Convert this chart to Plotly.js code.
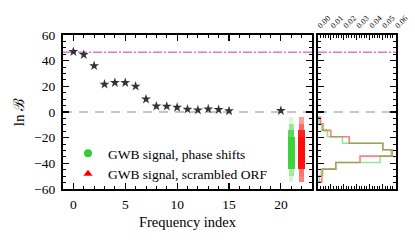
<!DOCTYPE html>
<html><head><meta charset="utf-8">
<script src="https://cdn.plot.ly/plotly-3.0.1.min.js"></script>
<style>html,body{margin:0;padding:0;background:#fff}</style>
</head><body><div id="chart" style="width:415px;height:242px"></div>
<script>
// ---- data ----
const freqIndex = [0, 1, 2, 3, 4, 5, 6, 7, 8, 9, 10, 11, 12, 13, 14, 15, 20];
const lnB = [47, 44.7, 36, 21.6, 22.8, 22.8, 20, 10, 4.5, 4.4, 3.6, 2.1, 1.5, 2.3, 1.8, 0.8, 1];
const refLnB = 46.5;
const zeroLine = 0;
const blobX = [21, 22];
const seriesNames = ['GWB signal, phase shifts', 'GWB signal, scrambled ORF'];
// histogram bins (bottom to top)
const binEdges = [-54.5, -49.5, -44.5, -39.4, -34.4, -29.4, -24.3, -19.3, -14.3, -9.2, -4.2];
const phaseHist = [0.0010, 0.0025, 0.0138, 0.0482, 0.0568, 0.0503, 0.0190, 0.0073, 0.0029, 0.0008];
const orfHist   = [0.0030, 0.0035, 0.0138, 0.0326, 0.0576, 0.0503, 0.0242, 0.0099, 0.0039, 0.0021];
const histTicks = [0, 0.01, 0.02, 0.03, 0.04, 0.05, 0.06];

// ---- styling ----
const GREEN = 'rgb(50,205,50)';
const RED = 'rgb(255,0,0)';
const FONT = '"Liberation Serif", "Times New Roman", serif';

function stepXY(edges, vals) {
  const xs = [0], ys = [edges[0]];
  for (let i = 0; i < vals.length; i++) { xs.push(vals[i]); ys.push(edges[i]); }
  xs.push(vals[vals.length - 1]); ys.push(edges[vals.length]);
  xs.push(0); ys.push(edges[vals.length]);
  return {xs, ys};
}
function blob(xpos, edges, vals, color) {
  const base = [], h = [], xs = [], op = [], w = [];
  for (let i = 0; i < vals.length; i++) {
    const o = 1 - Math.exp(-vals[i] / 0.004);
    base.push(edges[i]); h.push(edges[i + 1] - edges[i]); xs.push(xpos);
    op.push(o * 0.95); w.push(0.3 + 0.35 * o);
  }
  return {type: 'bar', x: xs, y: h, base: base, width: w, xaxis: 'x', yaxis: 'y',
    marker: {color: color, opacity: op, line: {width: 0}}, showlegend: false, hoverinfo: 'skip'};
}

const gStep = stepXY(binEdges, phaseHist);
const rStep = stepXY(binEdges, orfHist);

const traces = [
  blob(blobX[0], binEdges, phaseHist, GREEN),
  blob(blobX[1], binEdges, orfHist, RED),
  {type: 'scatter', mode: 'markers', x: freqIndex, y: lnB, xaxis: 'x', yaxis: 'y',
    marker: {symbol: 'star', size: 7.5, color: '#333333', line: {width: 0}}, showlegend: false},
  {type: 'scatter', mode: 'markers', x: [null], y: [null], xaxis: 'x', yaxis: 'y', name: seriesNames[0],
    marker: {symbol: 'circle', size: 8, color: GREEN}},
  {type: 'scatter', mode: 'markers', x: [null], y: [null], xaxis: 'x', yaxis: 'y', name: seriesNames[1],
    marker: {symbol: 'triangle-up', size: 8, color: RED}},
  {type: 'scatter', mode: 'lines', x: rStep.xs, y: rStep.ys, xaxis: 'x2', yaxis: 'y2',
    line: {shape: 'vh', color: 'rgba(255,0,0,0.5)', width: 1.6}, showlegend: false},
  {type: 'scatter', mode: 'lines', x: gStep.xs, y: gStep.ys, xaxis: 'x2', yaxis: 'y2',
    line: {shape: 'vh', color: 'rgba(50,205,50,0.5)', width: 1.6}, showlegend: false}
];

const axBase = {showline: true, linewidth: 2, linecolor: '#000', mirror: 'allticks', ticks: 'inside',
  tickcolor: '#000', tickwidth: 1.2, showgrid: false, zeroline: false, automargin: false,
  tickfont: {family: FONT, size: 13.5, color: '#000'}};

const yd = [1 - 189 / 242, 1 - 35 / 242];
const layout = {
  width: 415, height: 242, margin: {l: 0, r: 0, t: 0, b: 0},
  paper_bgcolor: '#fff', plot_bgcolor: '#fff', barmode: 'overlay', bargap: 0,
  font: {family: FONT, color: '#000'},
  xaxis: Object.assign({}, axBase, {domain: [63 / 415, 312 / 415], range: [-1, 23], anchor: 'y',
    tickvals: [0, 5, 10, 15, 20], ticklen: 6, ticklabelstandoff: 2,
    minor: {dtick: 1, tick0: 0, ticks: 'inside', ticklen: 3, tickcolor: '#000', tickwidth: 1},
    title: {text: 'Frequency index', font: {family: FONT, size: 14.5}, standoff: 6}}),
  yaxis: Object.assign({}, axBase, {domain: yd, range: [-60, 60], anchor: 'x', dtick: 20, ticklen: 6,
    ticklabelstandoff: 3,
    minor: {dtick: 5, tick0: 0, ticks: 'inside', ticklen: 3, tickcolor: '#000', tickwidth: 1},
    title: {text: 'ln ℬ', font: {family: FONT, size: 15}, standoff: 6}}),
  xaxis2: Object.assign({}, axBase, {domain: [318 / 415, 396 / 415], range: [0, 0.0605], anchor: 'y2',
    side: 'top', tickvals: histTicks, tickformat: '.2f', tickangle: -45, ticklen: 5,
    tickfont: {family: FONT, size: 8, color: '#000'},
    minor: {dtick: 0.002, tick0: 0, ticks: 'inside', ticklen: 3, tickcolor: '#000', tickwidth: 1}}),
  yaxis2: Object.assign({}, axBase, {domain: yd, range: [-60, 60], anchor: 'x2', dtick: 20, ticklen: 6,
    showticklabels: false,
    minor: {dtick: 5, tick0: 0, ticks: 'inside', ticklen: 3, tickcolor: '#000', tickwidth: 1}}),
  shapes: [
    {type: 'line', xref: 'x domain', yref: 'y', x0: 0, x1: 1, y0: refLnB, y1: refLnB,
      line: {color: 'rgb(221,119,221)', width: 1.6, dash: '9px,2px,2px,2px'}, layer: 'below'},
    {type: 'line', xref: 'x2 domain', yref: 'y2', x0: 0, x1: 1, y0: refLnB, y1: refLnB,
      line: {color: 'rgb(221,119,221)', width: 1.6, dash: '9px,2px,2px,2px'}, layer: 'below'},
    {type: 'line', xref: 'x domain', yref: 'y', x0: 0, x1: 1, y0: zeroLine, y1: zeroLine,
      line: {color: '#b4b4b4', width: 1.6, dash: '9px,7px'}, layer: 'below'},
    {type: 'line', xref: 'x2 domain', yref: 'y2', x0: 0, x1: 1, y0: zeroLine, y1: zeroLine,
      line: {color: '#b4b4b4', width: 1.6, dash: '9px,7px'}, layer: 'below'}
  ],
  legend: {x: 68 / 415, y: 1 - 138 / 242, xanchor: 'left', yanchor: 'top', bgcolor: 'rgba(0,0,0,0)',
    borderwidth: 0, font: {family: FONT, size: 13.5}, tracegroupgap: 0}
};

Plotly.newPlot('chart', traces, layout, {staticPlot: true, displayModeBar: false});
</script></body></html>
